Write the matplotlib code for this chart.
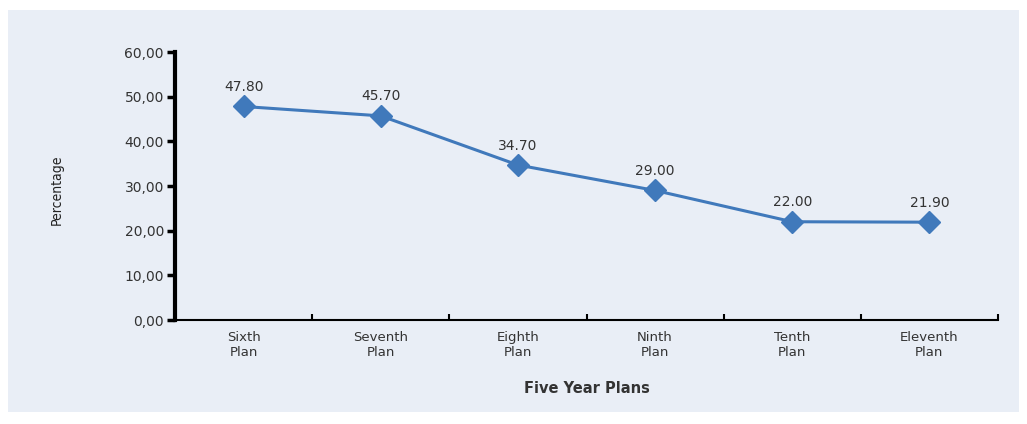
import numpy as np
import matplotlib.pyplot as plt
from matplotlib.patches import Rectangle

plans = ['Sixth\nPlan', 'Seventh\nPlan', 'Eighth\nPlan', 'Ninth\nPlan', 'Tenth\nPlan', 'Eleventh\nPlan']
values = [47.80, 45.70, 34.70, 29.00, 22.00, 21.90]
yticks = [0, 10, 20, 30, 40, 50, 60]

W, H = 1027, 424
fig = plt.figure(figsize=(W / 100, H / 100), dpi=100)
fig.patch.set_facecolor('white')
# light panel behind the chart
fig.patches.append(Rectangle((8 / W, 12 / H), 1011 / W, 402 / H, transform=fig.transFigure,
                             facecolor='#e9eef6', edgecolor='none', zorder=-10))

ax = fig.add_axes([175 / W, 104 / H, 823 / W, 268 / H])
ax.set_facecolor('none')
x = np.arange(len(plans))
ax.plot(x, values, '-D', color='#4079bb', lw=2.2, ms=11, mec='#4079bb')
for xi, v in zip(x, values):
    ax.annotate(f'{v:.2f}', (xi, v), xytext=(0, 9), textcoords='offset points',
                ha='center', va='bottom', fontsize=10, color='#333333')

ax.set_xlim(-0.5, len(plans) - 0.5)
ax.set_ylim(0, 60)
ax.set_yticks(yticks)
ax.set_yticklabels([f'{t:.2f}'.replace('.', ',') for t in yticks], fontsize=10, color='#333333')
ax.set_xticks(np.arange(len(plans) + 1) - 0.5)
ax.set_xticklabels([])
ax.set_xticks(x, minor=True)
ax.set_xticklabels(plans, minor=True, fontsize=9.5, color='#333333', linespacing=1.2)
ax.tick_params(axis='x', which='minor', length=0, pad=8)
ax.tick_params(axis='x', which='major', length=4, width=1.5, direction='in')
ax.tick_params(axis='y', length=6, width=2.5, color='black', pad=2)

for s in ['top', 'right']:
    ax.spines[s].set_visible(False)
ax.spines['left'].set_linewidth(3)
ax.spines['bottom'].set_linewidth(1.5)

ax.set_xlabel('Five Year Plans', fontsize=10.5, fontweight='bold', color='#333333', labelpad=16)
fig.text(57 / W, 1 - 190 / H, 'Percentage', rotation=90, ha='center', va='center',
         fontsize=10, color='#222222', fontstretch='condensed')

fig.savefig('out.png', dpi=100)
